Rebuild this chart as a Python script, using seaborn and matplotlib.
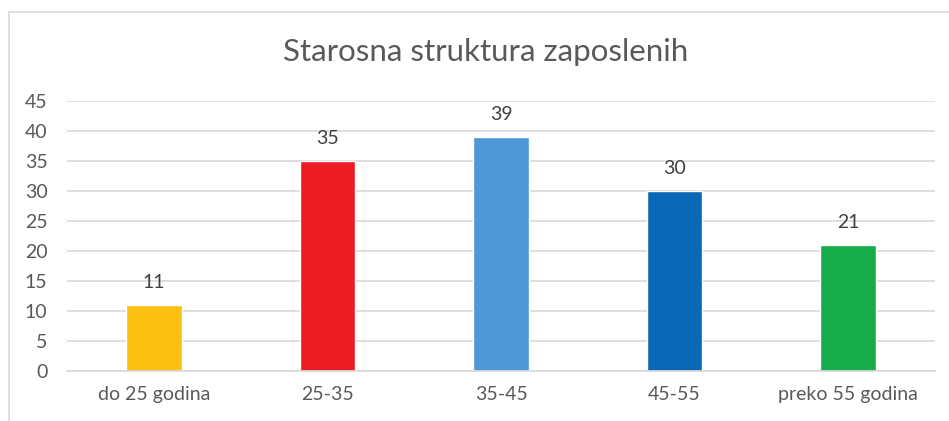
import matplotlib.pyplot as plt
import matplotlib.patches as mpatches
import seaborn as sb
import pandas as pd

categories = ["do 25 godina", "25-35", "35-45", "45-55", "preko 55 godina"]
values = [11, 35, 39, 30, 21]
colors = ["#FBC012", "#ED1C24", "#4F97D6", "#0868B5", "#16AC4B"]

sb.set_style("white")
plt.rcParams["font.family"] = ["Lato", "DejaVu Sans"]

df = pd.DataFrame({"kategorija": categories, "broj": values})

fig = plt.figure(figsize=(9.49, 4.21), dpi=100)
ax = fig.add_axes([67 / 949, 50 / 421, 868 / 949, 270 / 421])

sb.barplot(data=df, x="kategorija", y="broj", hue="kategorija", palette=colors,
           legend=False, width=0.32, ax=ax, saturation=1)

for c in ax.containers:
    ax.bar_label(c, padding=10, fontsize=14, color="#404040")

ax.set_ylim(0, 45)
ax.set_yticks(range(0, 50, 5))
ax.set_xlim(-0.5, 4.5)
ax.yaxis.grid(True, color="#D9D9D9", linewidth=1.2)
ax.set_axisbelow(True)
for s in ["top", "right", "left"]:
    ax.spines[s].set_visible(False)
ax.spines["bottom"].set_color("#D9D9D9")
ax.spines["bottom"].set_linewidth(1.2)
ax.tick_params(axis="both", length=0, labelsize=14, labelcolor="#595959")
ax.tick_params(axis="y", pad=14)
ax.tick_params(axis="x", pad=11)
ax.set_xlabel("")
ax.set_ylabel("")

fig.text(486 / 949, 1 - 52 / 421, "Starosna struktura zaposlenih", ha="center", va="center",
         fontsize=22.5, color="#595959")

border = mpatches.Rectangle((9 / 949, -0.1), 1.0, 1 - 12 / 421 + 0.1, transform=fig.transFigure,
                            fill=False, edgecolor="#D9D9D9", linewidth=1.2)
fig.patches.append(border)

fig.savefig("out.png", dpi=100)
